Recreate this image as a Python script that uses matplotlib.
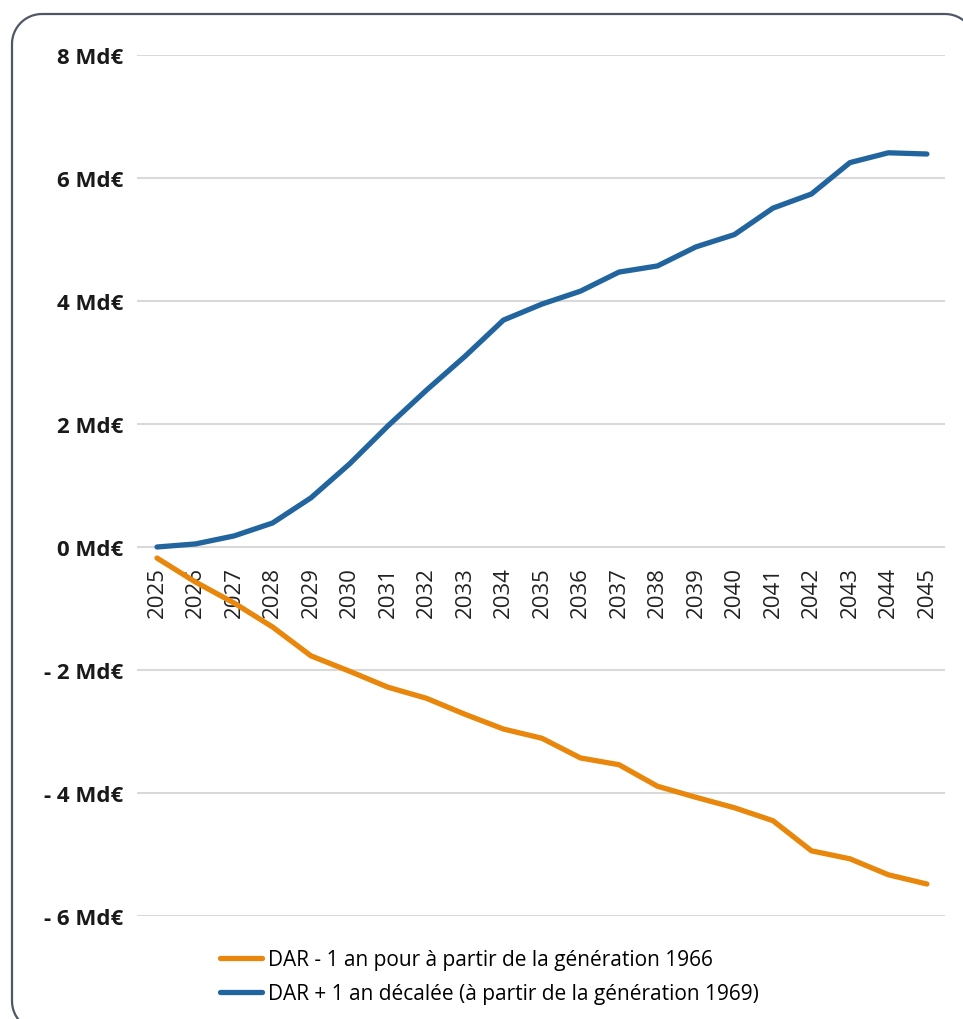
import numpy as np
import matplotlib.pyplot as plt
from matplotlib.patches import Polygon

# years and cost series (Md€)
years = list(range(2025, 2046))
dar_moins_1 = [-0.18, -0.57, -0.91, -1.30, -1.77, -2.02, -2.28, -2.46, -2.72, -2.96,
               -3.11, -3.43, -3.54, -3.89, -4.07, -4.24, -4.45, -4.94, -5.07, -5.33, -5.48]
dar_plus_1 = [0.0, 0.05, 0.18, 0.39, 0.80, 1.35, 1.97, 2.55, 3.10, 3.69,
              3.95, 4.16, 4.47, 4.57, 4.88, 5.08, 5.51, 5.74, 6.25, 6.41, 6.39]
y_ticks = [-6, -4, -2, 0, 2, 4, 6, 8]
y_labels = ['- 6 Md€', '- 4 Md€', '- 2 Md€', '0 Md€', '2 Md€', '4 Md€', '6 Md€', '8 Md€']
legend_labels = ['DAR - 1 an pour à partir de la génération 1966',
                 'DAR + 1 an décalée (à partir de la génération 1969)']

orange = '#e8870c'
blue = '#22659e'

plt.rcParams['font.family'] = ['Open Sans', 'DejaVu Sans']

W, H = 963, 1020
fig = plt.figure(figsize=(W / 100, H / 100), dpi=100)
ax = fig.add_axes([137/W, 103/H, 808/W, 861/H])


def rounded_rect(x0, y0, x1, y1, r, n=20):
    # outline of a rounded rectangle, pixels with y from the top -> figure fractions
    pts = []
    corners = [(x1 - r, y0 + r, -90, 0), (x1 - r, y1 - r, 0, 90),
               (x0 + r, y1 - r, 90, 180), (x0 + r, y0 + r, 180, 270)]
    for cx, cy, a0, a1 in corners:
        t = np.radians(np.linspace(a0, a1, n))
        pts += list(zip(cx + r * np.cos(t), cy + r * np.sin(t)))
    return [(px / W, 1 - py / H) for px, py in pts]


# frame around the whole chart
frame = Polygon(rounded_rect(12, 15, 975, 1032, 30), closed=True,
                transform=fig.transFigure, fill=False,
                edgecolor='#4f5766', linewidth=1.6, zorder=0)
fig.patches.append(frame)

ax.plot(years, dar_moins_1, color=orange, linewidth=3.8,
        solid_capstyle='round', solid_joinstyle='round', label=legend_labels[0], zorder=3)
ax.plot(years, dar_plus_1, color=blue, linewidth=3.8,
        solid_capstyle='round', solid_joinstyle='round', label=legend_labels[1], zorder=3)

# x labels sit under the zero line
ax.spines['bottom'].set_position(('data', 0))
for s in ['top', 'right', 'left', 'bottom']:
    ax.spines[s].set_visible(False)

ax.set_xlim(2024.48, 2045.47)
ax.set_ylim(-6, 8)
ax.set_yticks(y_ticks)
ax.set_yticklabels(y_labels, fontweight='bold', fontsize=16, color='#1a1a1a')
ax.set_xticks(years)
ax.set_xticklabels([str(y) for y in years], rotation=90, fontsize=16, color='#222222')
ax.tick_params(axis='both', length=0)
ax.tick_params(axis='y', pad=10)
ax.tick_params(axis='x', pad=14)

ax.grid(axis='y', color='#d9d9d9', linewidth=1.5)
ax.set_axisbelow(True)

fig.legend(loc='upper left', bbox_to_anchor=(212/W, 1 - 942/H),
           frameon=False, fontsize=15, handlelength=2.0, handletextpad=0.3,
           labelspacing=0.6, borderaxespad=0)

plt.savefig('out.png', dpi=100)
